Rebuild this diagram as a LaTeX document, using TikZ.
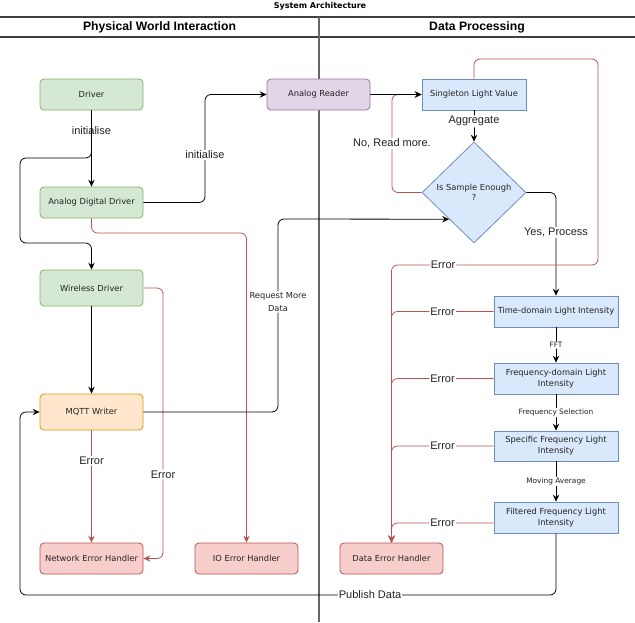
\documentclass[tikz,border=0pt]{standalone}
\usepackage{fontspec}
\setmainfont{DejaVu Sans}
\newfontfamily\lib{Liberation Sans}
\newfontfamily\dv{DejaVu Sans}
\usetikzlibrary{arrows.meta,shapes.geometric,calc}
\definecolor{gfill}{HTML}{D5E8D4}\definecolor{gline}{HTML}{82B366}
\definecolor{pfill}{HTML}{E1D5E7}\definecolor{pline}{HTML}{9673A6}
\definecolor{bfill}{HTML}{DAE8FC}\definecolor{bline}{HTML}{6C8EBF}
\definecolor{ofill}{HTML}{FFE6CC}\definecolor{oline}{HTML}{D79B00}
\definecolor{rfill}{HTML}{F8CECC}\definecolor{rline}{HTML}{B85450}
\definecolor{txt}{HTML}{222222}
\tikzset{
  box/.style={draw, minimum width=103pt, minimum height=31pt, inner sep=1pt,
    font=\dv\fontsize{8.3}{10.7}\selectfont, align=center, text=txt, line width=0.8pt},
  rbox/.style={box, rounded corners=4pt},
  gbox/.style={rbox, fill=gfill, draw=gline},
  pbox/.style={rbox, fill=pfill, draw=pline},
  obox/.style={rbox, fill=ofill, draw=oline},
  ebox/.style={rbox, fill=rfill, draw=rline},
  bbox/.style={box, fill=bfill, draw=bline},
  dia/.style={diamond, draw=bline, fill=bfill, minimum width=104pt, minimum height=101pt,
    inner sep=0pt, aspect=1.03, font=\dv\fontsize{8.3}{10}\selectfont, align=center, text=txt, line width=0.8pt},
  arr/.style={-{Stealth[length=7pt,width=6.5pt,inset=2.5pt]}, line width=0.8pt, rounded corners=6pt, draw=black},
  redarr/.style={arr, draw=rline, -{Stealth[length=7pt,width=6.5pt,inset=2.5pt,fill=rline]}},
  elab/.style={fill=white, font=\lib\fontsize{11}{12}\selectfont, inner sep=1pt, text=txt},
  mlab/.style={fill=white, font=\dv\fontsize{8.3}{13.3}\selectfont, inner sep=1pt, align=center, text=txt},
  slab/.style={fill=white, font=\dv\fontsize{7.4}{9}\selectfont, inner sep=1pt, text=txt},
  lane/.style={draw=black!75, line width=1.2pt},
}
\begin{document}
\begin{tikzpicture}[x=1pt,y=-1pt]
\useasboundingbox (0,0) rectangle (635,622);
% swimlanes
\draw[lane] (0,17) -- (635,17);
\draw[lane] (0,37) -- (635,37);
\draw[draw=black!60, line width=1.5pt] (319,17) -- (319,622);
\node[font=\dv\bfseries\fontsize{8}{9}\selectfont] (title) at (320,6) {System Architecture};
\node[font=\lib\bfseries\fontsize{12.2}{14}\selectfont] (h1) at (159.5,27) {Physical World Interaction};
\node[font=\lib\bfseries\fontsize{12.2}{14}\selectfont] (h2) at (477,27) {Data Processing};
% nodes
\node[gbox] (drv) at (91.5,94.5) {Driver};
\node[gbox] (add) at (91.5,202.5) {Analog Digital Driver};
\node[gbox, minimum height=36pt] (wd) at (91.5,288) {Wireless Driver};
\node[obox, minimum height=36pt] (mq) at (91.5,412) {MQTT Writer};
\node[ebox] (neh) at (91.5,558.5) {Network Error Handler};
\node[ebox] (ioe) at (246.5,558.5) {IO Error Handler};
\node[pbox] (ar) at (318.5,94.5) {Analog Reader};
\node[bbox, minimum width=104pt] (slv) at (474,94.5) {Singleton Light Value};
\node[dia] (dia) at (474,192.5) {Is Sample Enough\\?};
\node[ebox] (deh) at (391.5,558.5) {Data Error Handler};
\node[bbox, minimum width=124pt] (tdl) at (556,311.5) {Time-domain Light Intensity};
\node[bbox, minimum width=124pt] (fdl) at (556,378.5) {Frequency-domain Light\\Intensity};
\node[bbox, minimum width=124pt, minimum height=30pt] (sfl) at (556,446) {Specific Frequency Light\\Intensity};
\node[bbox, minimum width=124pt] (ffl) at (556,517.5) {Filtered Frequency Light\\Intensity};
% physical world edges
\draw[arr] (drv.south) -- node[elab, pos=0.27] {initialise} (add.north);
\draw[arr] (drv.south) -- (91.5,158) -- (20,158) -- (20,243) -- (91.5,243) -- (wd.north);
\draw[arr] (add.east) -- (205,202.5) -- node[elab, pos=0.44] {initialise} (205,94.5) -- (ar.west);
\draw[redarr] (add.south) -- (91.5,233) -- (246.5,233) -- (ioe.north);
\draw[arr] (wd.south) -- (mq.north);
\draw[redarr] (wd.east) -- (163,288) -- node[elab, pos=0.69] {Error} (163,558.5) -- (neh.east);
\draw[redarr] (mq.south) -- node[elab, pos=0.27] {Error} (neh.north);
\draw[arr] (mq.east) -- (278,412) -- node[mlab, pos=0.57] {Request More\\Data} (278,219) -- ($(dia.west)!0.525!(dia.south)$);
% data processing edges
\draw[redarr] (dia.west) -- (392,192.5) -- node[elab] {No, Read more.} (392,94.5) -- (slv.west);
\draw[arr] (ar.east) -- (slv.west);
\draw[arr] (slv.south) -- node[elab, pos=0.35] {Aggregate} (dia.north);
\draw[arr] (dia.east) -- (556,192.5) -- node[elab, pos=0.39] {Yes, Process} (tdl.north);
\draw[redarr] (slv.north) -- (474,59) -- (598,59) -- (598,265) -- node[elab, pos=0.75] {Error} (391.5,265) -- (deh.north);
\draw[redarr] (tdl.west) -- node[elab] {Error} (391.5,311.5) -- (deh.north);
\draw[redarr] (fdl.west) -- node[elab] {Error} (391.5,378.5) -- (deh.north);
\draw[redarr] (sfl.west) -- node[elab] {Error} (391.5,446) -- (deh.north);
\coordinate (fflerr) at ($(ffl.west)+(0,5.5)$);
\draw[redarr] (fflerr) -- node[elab] {Error} (391.5,523) -- (deh.north);
\draw[arr] (tdl.south) -- node[slab] {FFT} (fdl.north);
\draw[arr] (fdl.south) -- node[slab] {Frequency Selection} (sfl.north);
\draw[arr] (sfl.south) -- node[slab] {Moving Average} (ffl.north);
\draw[arr] (ffl.south) -- (556,595) -- node[elab, pos=0.347] {Publish Data} (20,595) -- (20,412) -- (mq.west);
\end{tikzpicture}
\end{document}
